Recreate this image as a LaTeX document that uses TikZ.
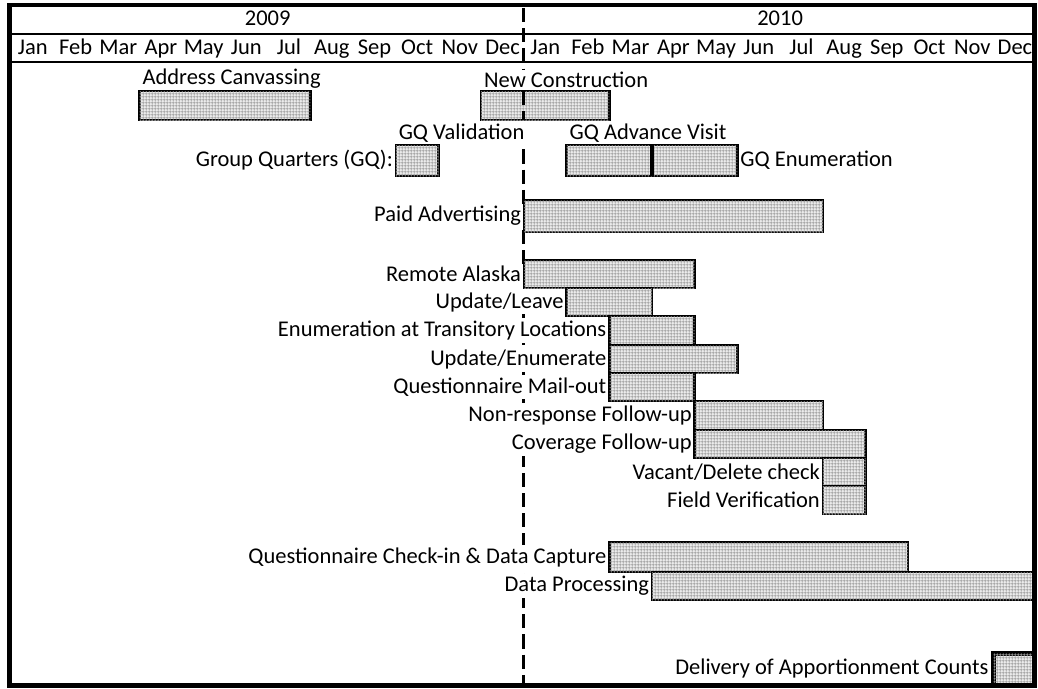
\documentclass[tikz,border=0pt]{standalone}
\usepackage{fontspec}
\setmainfont{Carlito}
\usetikzlibrary{patterns.meta}

\tikzdeclarepattern{
  name=finegrid,
  type=uncolored,
  bounding box={(0,0) and (1.8pt,1.8pt)},
  tile size={(1.8pt,1.8pt)},
  code={
    \draw[line width=0.45pt] (0,0.9pt) -- (1.8pt,0.9pt);
    \draw[line width=0.45pt] (0.9pt,0) -- (0.9pt,1.8pt);
  }
}

\begin{document}
\begin{tikzpicture}[
    x=0.854cm, y=-0.02cm,
    frame/.style={line width=2.8pt},
    rule/.style={line width=1.1pt},
    bar/.style={draw, line width=1.4pt, fill=gray!15, postaction={pattern=finegrid, pattern color=gray!75}},
    lbl/.style={font=\fontsize{12.8}{15}\selectfont, inner sep=1.5pt},
    head/.style={lbl, anchor=base},
    tag/.style={lbl, fill=white},
    split/.style={line width=1.7pt, dash pattern=on 8pt off 3.5pt}
  ]
  \useasboundingbox (-0.2693,0) rectangle (24.04,688);

  % Year split (behind labels)
  \draw[split] (12,8) -- (12,684);

  % Year and month header
  \node[head] (yr09) at (6,26) {2009};
  \node[head] (yr10) at (18,26) {2010};
  \foreach \m [count=\i from 0] in {Jan,Feb,Mar,Apr,May,Jun,Jul,Aug,Sep,Oct,Nov,Dec} {
    \node[head] (mo09-\i) at (\i+0.5,54) {\m};
    \node[head] (mo10-\i) at (\i+12.5,54) {\m};
  }

  % Labels
  \node[tag, anchor=south west] (addr) at (3,91) {Address Canvassing};
  \node[tag, anchor=south west] (newcon) at (11,91) {New Construction};
  \node[tag, anchor=south west] (gqval) at (9,145) {GQ Validation};
  \node[tag, anchor=east] (gq) at (9,160.5) {Group Quarters (GQ):};
  \node[tag, anchor=south west] (gqadv) at (13,145) {GQ Advance Visit};
  \node[tag, anchor=west] (gqenum) at (17,160.5) {GQ Enumeration};
  \node[tag, anchor=east] (paid) at (12,216) {Paid Advertising};
  \node[tag, anchor=east] (alaska) at (12,274) {Remote Alaska};
  \node[tag, anchor=east] (upleave) at (13,302) {Update/Leave};
  \node[tag, anchor=east] (etl) at (14,330.5) {Enumeration at Transitory Locations};
  \node[tag, anchor=east] (upenum) at (14,359) {Update/Enumerate};
  \node[tag, anchor=east] (mailout) at (14,387) {Questionnaire Mail-out};
  \node[tag, anchor=east] (nrfu) at (16,415.5) {Non-response Follow-up};
  \node[tag, anchor=east] (cfu) at (16,444) {Coverage Follow-up};
  \node[tag, anchor=east] (vdc) at (19,472) {Vacant/Delete check};
  \node[tag, anchor=east] (fv) at (19,500) {Field Verification};
  \node[tag, anchor=east] (checkin) at (14,557) {Questionnaire Check-in \& Data Capture};
  \node[tag, anchor=east] (dataproc) at (15,586) {Data Processing};
  \node[tag, anchor=east] (deliv) at (22.95,668) {Delivery of Apportionment Counts};

  % Bars
  \draw[bar] (3,91) rectangle (7,120);
  \draw[bar] (11,91) rectangle (14,120);
  \draw[split] (12,91) -- (12,120);
  \draw[bar] (9,145) rectangle (10,176);
  \draw[bar] (13,145) rectangle (17,176);
  \draw[line width=2.4pt] (15,145) -- (15,176);
  \draw[bar] (12,200) rectangle (19,232);
  \draw[bar] (12,260) rectangle (16,288);
  \draw[bar] (13,288) rectangle (15,316);
  \draw[bar] (14,316) rectangle (16,345);
  \draw[bar] (14,345) rectangle (17,373);
  \draw[bar] (14,373) rectangle (16,401);
  \draw[bar] (16,401) rectangle (19,430);
  \draw[bar] (16,430) rectangle (20,458);
  \draw[bar] (19,458) rectangle (20,486);
  \draw[bar] (19,486) rectangle (20,514);
  \draw[bar] (14,542) rectangle (21,572);
  \draw[bar] (15,572) rectangle (23.96,600);
  \draw[bar, line width=2.8pt] (23,653) rectangle (23.96,685.5);

  % Frame and header rules
  \draw[rule] (-0.04,34) -- (23.96,34);
  \draw[rule] (-0.04,62) -- (23.96,62);
  \draw[frame] (-0.04,5) rectangle (23.96,685.5);
\end{tikzpicture}
\end{document}
